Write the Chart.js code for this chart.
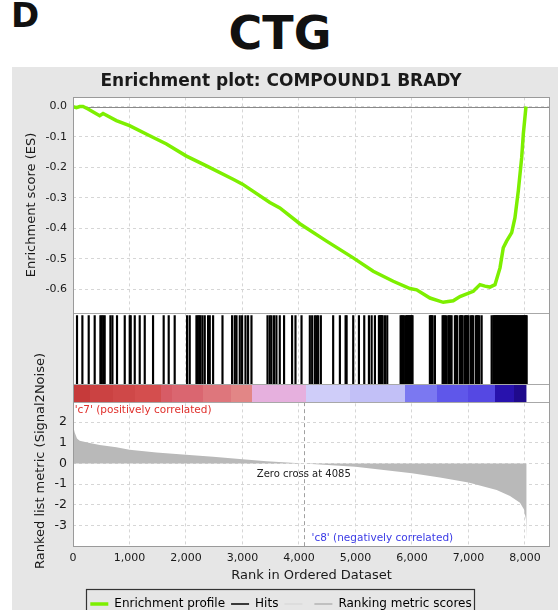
<!DOCTYPE html>
<html>
<head>
<meta charset="utf-8">
<script src="https://cdn.jsdelivr.net/npm/chart.js@4.4.1/dist/chart.umd.min.js"></script>
<style>
  body { margin: 0; background: #fff; width: 558px; height: 610px; overflow: hidden; position: relative; font-family: 'DejaVu Sans', sans-serif; color: #111; }
  #letter { position: absolute; left: 11px; top: -2px; font-size: 34px; font-weight: bold; line-height: 34px; }
  #headline { position: absolute; left: 0; width: 560px; top: 9px; text-align: center; font-size: 46px; font-weight: bold; line-height: 48px; }
  #panel { position: absolute; left: 12px; top: 67px; width: 546px; height: 553px; background: #e6e6e6; }
</style>
</head>
<body>
<div id="letter">D</div>
<div id="headline">CTG</div>
<div id="panel"><canvas id="gseaChart" width="546" height="553"></canvas></div>
<script>
// tick labels
const rankTicks = [0, 1000, 2000, 3000, 4000, 5000, 6000, 7000, 8000];
const esTicks = [0, -0.1, -0.2, -0.3, -0.4, -0.5, -0.6];
const metricTicks = [2, 1, 0, -1, -2, -3];

// running enrichment score
const esRanks  = [0, 60, 120, 177, 266, 473, 532, 768, 1000, 1358, 1654, 2000, 2362, 2834, 3000,
                  3484, 3661, 4015, 4488, 4960, 5314, 5668, 5964, 6083, 6318, 6553, 6730, 6849,
                  7085, 7203, 7292, 7380, 7469, 7558, 7616, 7675, 7765, 7823, 7882, 7942, 7971, 8018];
const esScores = [0, -0.004, 0, 0, -0.008, -0.03, -0.023, -0.046, -0.063, -0.096, -0.123, -0.162, -0.195, -0.239, -0.255,
                  -0.315, -0.333, -0.385, -0.442, -0.497, -0.541, -0.574, -0.598, -0.602, -0.629, -0.643, -0.638, -0.624,
                  -0.607, -0.585, -0.59, -0.593, -0.585, -0.53, -0.464, -0.442, -0.414, -0.365, -0.277, -0.167, -0.09, 0];

// ranked list metric (Signal2Noise)
const metricRanks  = [0, 30, 71, 118, 296, 473, 768, 1000, 1476, 2000, 2480, 3000, 3425, 4085,
                      5000, 6000, 6495, 7000, 7499, 7735, 7912, 7983, 8018, 8030];
const metricScores = [1.83, 1.5, 1.21, 1.1, 0.99, 0.89, 0.78, 0.66, 0.53, 0.42, 0.32, 0.21, 0.11, 0,
                      -0.16, -0.47, -0.68, -0.92, -1.28, -1.57, -1.89, -2.22, -2.7, -3.67];

// positions of gene set members in the ranked list
const hitRanks = [
  71, 166, 278, 384, 485, 508, 535, 561, 662, 698, 779, 916, 1004, 1022, 1093, 1181, 1270, 1417,
  1605, 1694, 1800, 2019, 2066, 2185, 2209, 2235, 2256, 2292, 2332, 2391, 2421, 2480, 2646,
  2816, 2864, 2894, 2952, 2993, 3053, 3099, 3159, 3443, 3483, 3513, 3559, 3601, 3660, 3736,
  3878, 3938, 4045, 4192, 4233, 4281, 4311, 4339, 4387, 4605, 4724, 4825, 4843, 4960, 5061,
  5155, 5238, 5286, 5344, 5415, 5433, 5450, 5466, 5480, 5521, 5562, 5799, 5817, 5835, 5857,
  5893, 5910, 5928, 5946, 5963, 5981, 5998, 6010, 6317, 6334, 6350, 6365, 6406, 6542, 6560,
  6578, 6601, 6641, 6660, 6680, 6701, 6760, 6780, 6801, 6849, 6866, 6881, 6897, 6937, 6955,
  6975, 6996, 7038, 7060, 7084, 7132, 7150, 7170, 7191, 7233, 7410,
  7439, 7456, 7472, 7489, 7505, 7522, 7538, 7555, 7571, 7588, 7604, 7621, 7637, 7654, 7670,
  7687, 7703, 7720, 7736, 7753, 7769, 7786, 7802, 7819, 7835, 7852, 7868, 7885, 7901, 7918,
  7934, 7951, 7967, 7984, 8000, 8017, 8030
];

// colour bar bands (rank edges)
const bandEdges = [0, 300, 700, 1100, 1550, 1750, 2300, 2800, 3160, 4130, 4900, 5880, 6440, 7000, 7470, 7800, 8030];

const bandColors = ['#c63a3a', '#cb4242', '#cf4848', '#d44e4e', '#d75c66', '#da6670', '#de767c', '#e28686',
                    '#e6b0de', '#cfcdf9', '#c2c0f7', '#7b78f1', '#5f57ea', '#5548e3', '#2812ad', '#1f0a8c'];
const colorBarBottom = -0.265;

Chart.defaults.font.family = "'DejaVu Sans', sans-serif";
Chart.defaults.color = '#1a1a1a';

const gridColor = '#d6d6d6';

const legendItems = [
  { text: 'Enrichment profile', strokeStyle: '#7def00', lineWidth: 3.5 },
  { text: 'Hits', strokeStyle: '#000', lineWidth: 1.5 },
  { text: '', strokeStyle: '#d4d4d4', lineWidth: 1 },
  { text: 'Ranking metric scores', strokeStyle: '#9a9a9a', lineWidth: 1 }
];

// hard-stop gradient across the rank axis, one stop pair per band
function bandGradient(chart) {
  const x = chart.scales.x;
  if (!x || !chart.chartArea) return bandColors[0];
  const first = bandEdges[0];
  const last = bandEdges[bandEdges.length - 1];
  const g = chart.ctx.createLinearGradient(x.getPixelForValue(first), 0, x.getPixelForValue(last), 0);
  bandColors.forEach((c, i) => {
    g.addColorStop((bandEdges[i] - first) / (last - first), c);
    g.addColorStop((bandEdges[i + 1] - first) / (last - first), c);
  });
  return g;
}

// extra drawing: white plot background, panel lines, annotations
const gseaDecor = {
  id: 'gseaDecor',
  beforeDraw(chart) {
    const { ctx, chartArea: a } = chart;
    ctx.save();
    ctx.fillStyle = '#fff';
    ctx.fillRect(a.left, a.top, a.width, a.height);
    ctx.restore();
  },
  beforeDatasetsDraw(chart) {
    const { ctx, chartArea: a, scales } = chart;
    ctx.save();
    ctx.strokeStyle = '#8a8a8a';
    ctx.lineWidth = 1;
    const y0 = Math.round(scales.y.getPixelForValue(0)) + 0.5;
    ctx.beginPath(); ctx.moveTo(a.left, y0); ctx.lineTo(a.right, y0); ctx.stroke();
    ctx.restore();
  },
  afterDatasetsDraw(chart) {
    const { ctx, chartArea: a, scales } = chart;
    const { x, yHits, yMetric } = scales;
    ctx.save();
    // zero cross marker
    const zx = Math.round(x.getPixelForValue(4085)) + 0.5;
    ctx.strokeStyle = '#a0a0a0';
    ctx.setLineDash([4, 3]);
    ctx.beginPath(); ctx.moveTo(zx, yMetric.top); ctx.lineTo(zx, yMetric.bottom); ctx.stroke();
    ctx.setLineDash([]);
    // panel separators
    ctx.strokeStyle = '#a8a8a8';
    [yHits.top, yHits.getPixelForValue(0), yHits.bottom].forEach(py => {
      const yy = Math.round(py) + 0.5;
      ctx.beginPath(); ctx.moveTo(a.left, yy); ctx.lineTo(a.right, yy); ctx.stroke();
    });
    ctx.strokeStyle = '#9a9a9a';
    ctx.strokeRect(Math.round(a.left) + 0.5, Math.round(a.top) + 0.5, Math.round(a.width) - 1, Math.round(a.height) - 1);

    // annotations
    ctx.textBaseline = 'middle';
    ctx.font = "10.5px 'DejaVu Sans'";
    ctx.fillStyle = '#e0302c';
    ctx.textAlign = 'left';
    ctx.fillText("'c7' (positively correlated)", x.getPixelForValue(30), yMetric.getPixelForValue(2.57));
    ctx.fillStyle = '#3b3be6';
    ctx.fillText("'c8' (negatively correlated)", x.getPixelForValue(4222), yMetric.getPixelForValue(-3.6));
    ctx.fillStyle = '#222';
    ctx.font = "10px 'DejaVu Sans'";
    ctx.textAlign = 'center';
    ctx.fillText('Zero cross at 4085', x.getPixelForValue(4085), yMetric.getPixelForValue(-0.55));

    // metric axis title
    ctx.font = "13px 'DejaVu Sans'";
    ctx.fillStyle = '#1a1a1a';
    ctx.translate(29, 394);
    ctx.rotate(-Math.PI / 2);
    ctx.fillText('Ranked list metric (Signal2Noise)', 0, 0);
    ctx.restore();
  },
  afterDraw(chart) {
    const lg = chart.legend;
    const boxes = lg.legendHitBoxes;
    const left = Math.min(...boxes.map(b => b.left)) - 4;
    const right = Math.max(...boxes.map(b => b.left + b.width)) + 3;
    const { ctx } = chart;
    ctx.save();
    ctx.strokeStyle = '#333';
    ctx.lineWidth = 1.2;
    ctx.strokeRect(Math.round(left) + 0.5, Math.round(lg.top) - 2.5, Math.round(right - left), 60);
    ctx.restore();
  }
};

const ctx = document.getElementById('gseaChart').getContext('2d');

const datasets = [
  {
    type: 'line',
    label: 'Enrichment profile',
    data: esRanks.map((r, i) => ({ x: r, y: esScores[i] })),
    yAxisID: 'y',
    borderColor: '#7def00',
    borderWidth: 3.5,
    pointRadius: 0,
    tension: 0,
    fill: false
  },
  {
    type: 'bar',
    label: 'Hits',
    data: hitRanks.map(r => ({ x: r, y: [0, 1] })),
    yAxisID: 'yHits',
    backgroundColor: '#000',
    barThickness: 1.5
  },
  {
    type: 'line',
    label: 'Colour bar',
    data: [{ x: bandEdges[0], y: colorBarBottom }, { x: bandEdges[bandEdges.length - 1], y: colorBarBottom }],
    yAxisID: 'yHits',
    fill: { value: 0 },
    backgroundColor: c => bandGradient(c.chart),
    borderColor: 'transparent',
    borderWidth: 0,
    pointRadius: 0
  },
  {
    type: 'line',
    label: 'Ranking metric scores',
    data: metricRanks.map((r, i) => ({ x: r, y: metricScores[i] })),
    yAxisID: 'yMetric',
    fill: 'origin',
    backgroundColor: '#b9b9b9',
    borderColor: 'transparent',
    borderWidth: 0,
    pointRadius: 0,
    tension: 0
  }
];

const chart = new Chart(ctx, {
  type: 'line',
  data: { datasets: datasets },
  options: {
    responsive: false,
    animation: false,
    devicePixelRatio: 1,
    events: [],
    layout: { padding: { left: 0, right: 8, top: 0, bottom: 0 } },
    plugins: {
      title: {
        display: true,
        text: 'Enrichment plot: COMPOUND1 BRADY',
        font: { size: 17, weight: 'bold' },
        color: '#1a1a1a',
        padding: { top: 4, bottom: 6 }
      },
      legend: {
        position: 'bottom',
        labels: {
          usePointStyle: true,
          pointStyleWidth: 18,
          font: { size: 12 },
          color: '#1a1a1a',
          padding: 6,
          generateLabels: () => legendItems.map((it, i) => ({
            text: it.text,
            strokeStyle: it.strokeStyle,
            fillStyle: it.strokeStyle,
            lineWidth: it.lineWidth,
            pointStyle: 'line',
            hidden: false,
            datasetIndex: i
          }))
        }
      },
      tooltip: { enabled: false }
    },
    scales: {
      x: {
        type: 'linear',
        min: 0,
        max: 8443,
        offset: false,
        grid: { offset: false, color: gridColor, drawTicks: false },
        border: { display: false, dash: [3, 3] },
        afterBuildTicks: s => { s.ticks = rankTicks.map(v => ({ value: v })); },
        ticks: { padding: 5, font: { size: 11 }, maxRotation: 0, autoSkip: false,
                 callback: v => v.toLocaleString('en-US') },
        title: { display: true, text: 'Rank in Ordered Dataset', font: { size: 13 }, padding: { top: 0, bottom: 9 } },
        afterFit: s => { s.height = 45; }
      },
      y: {
        type: 'linear',
        position: 'left',
        stack: 'gsea',
        stackWeight: 214,
        weight: 3,
        min: -0.677,
        max: 0.03,
        grid: { color: gridColor, drawTicks: false },
        border: { display: false, dash: [3, 3] },
        afterBuildTicks: s => { s.ticks = esTicks.map(v => ({ value: v })); },
        ticks: { padding: 6, font: { size: 11 }, autoSkip: false, callback: v => v.toFixed(1) },
        title: { display: true, text: 'Enrichment score (ES)', font: { size: 13 }, padding: { top: 11.7, bottom: 0 } },
        afterFit: s => { s.width = 61; }
      },
      yHits: {
        type: 'linear',
        position: 'left',
        stack: 'gsea',
        stackWeight: 89,
        weight: 2,
        min: colorBarBottom,
        max: 1.044,
        grid: { display: false },
        border: { display: false },
        ticks: { display: false },
        afterFit: s => { s.width = 61; }
      },
      yMetric: {
        type: 'linear',
        position: 'left',
        stack: 'gsea',
        stackWeight: 144,
        weight: 1,
        min: -4.03,
        max: 2.96,
        grid: { color: gridColor, drawTicks: false },
        border: { display: false, dash: [3, 3] },
        afterBuildTicks: s => { s.ticks = metricTicks.map(v => ({ value: v })); },
        ticks: { padding: 6, font: { size: 12.5 }, autoSkip: false, callback: v => String(v) },
        afterFit: s => { s.width = 61; }
      }
    }
  },
  plugins: [gseaDecor]
});
</script>
</body>
</html>
